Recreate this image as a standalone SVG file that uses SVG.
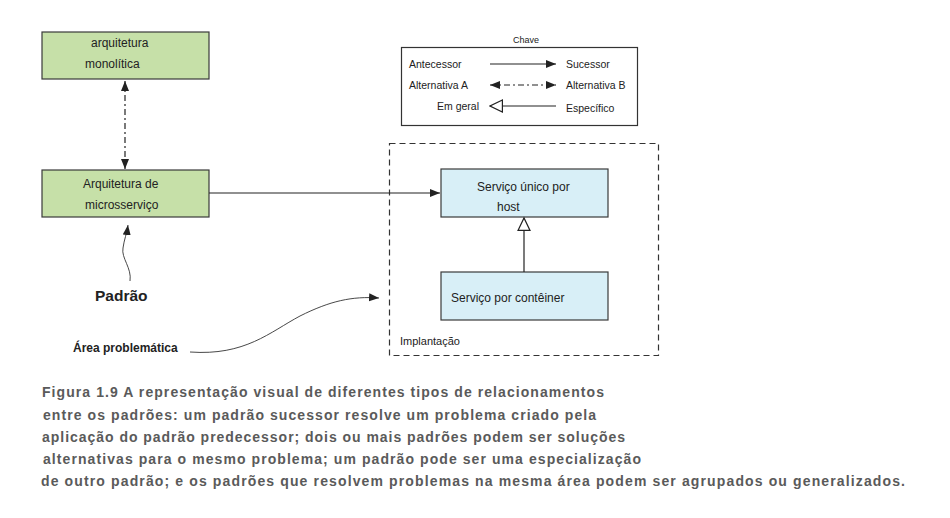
<svg xmlns="http://www.w3.org/2000/svg" width="950" height="518" viewBox="0 0 950 518">
<style>
text{font-family:"Liberation Sans",Arial,sans-serif;fill:#222}
.box{stroke:#3a3a3a;stroke-width:1.2}
.green{fill:#c6e0a8}
.blue{fill:#d8eff7}
.t{font-size:12px}
.lg{font-size:10.5px}
.cap{font-size:14px;font-weight:bold;fill:#5a5a5a}
.ln{fill:none;stroke:#222;stroke-width:1.2}
.dd{stroke-dasharray:6 3 2 3}
</style>
<defs>
<marker id="fa" markerUnits="userSpaceOnUse" markerWidth="12" markerHeight="10" refX="10" refY="4" orient="auto">
<path d="M0,0 L10,4 L0,8 Z" fill="#222"/>
</marker>
<marker id="fs" markerUnits="userSpaceOnUse" markerWidth="12" markerHeight="10" refX="0" refY="4" orient="auto">
<path d="M10,0 L0,4 L10,8 Z" fill="#222"/>
</marker>
<marker id="ho" markerUnits="userSpaceOnUse" markerWidth="16" markerHeight="16" refX="13" refY="7" orient="auto">
<path d="M0.6,1 L13,7 L0.6,13 Z" fill="#fff" stroke="#222" stroke-width="1.2"/>
</marker>
<marker id="hs" markerUnits="userSpaceOnUse" markerWidth="16" markerHeight="16" refX="0.6" refY="7" orient="auto">
<path d="M13,1 L0.6,7 L13,13 Z" fill="#fff" stroke="#222" stroke-width="1.2"/>
</marker>
</defs>

<g id="node-monolitica">
<rect class="box green" x="42" y="32" width="167" height="47"/>
<text class="t" x="91" y="47">arquitetura</text>
<text class="t" x="85" y="68">monolítica</text>
</g>
<g id="node-microsservico">
<rect class="box green" x="42" y="170" width="167" height="47"/>
<text class="t" x="83" y="188">Arquitetura de</text>
<text class="t" x="85" y="209">microsserviço</text>
</g>

<g id="legend">
<text x="526" y="43" text-anchor="middle" style="font-size:9px">Chave</text>
<rect x="401.5" y="47.5" width="236" height="78" fill="#fff" stroke="#333" stroke-width="1.2"/>
<text class="lg" x="409" y="68">Antecessor</text>
<text class="lg" x="566" y="68">Sucessor</text>
<text class="lg" x="409" y="89">Alternativa A</text>
<text class="lg" x="566" y="89">Alternativa B</text>
<text class="lg" x="437" y="110">Em geral</text>
<text class="lg" x="566" y="112">Específico</text>
<line class="ln" x1="490" y1="64" x2="556" y2="64" marker-end="url(#fa)"/>
<line class="ln dd" x1="490" y1="85" x2="556" y2="85" marker-start="url(#fs)" marker-end="url(#fa)"/>
<line class="ln" x1="490" y1="106" x2="556" y2="106" marker-start="url(#hs)"/>
</g>

<g id="group-implantacao">
<rect x="389.5" y="143.5" width="269" height="212" fill="none" stroke="#333" stroke-width="1.2" stroke-dasharray="6 4"/>
<text style="font-size:11px" x="400" y="345">Implantação</text>
</g>
<g id="node-servico-unico">
<rect class="box blue" x="441" y="169" width="167" height="48"/>
<text class="t" x="477" y="191">Serviço único por</text>
<text class="t" x="497" y="211">host</text>
</g>
<g id="node-servico-conteiner">
<rect class="box blue" x="441" y="272" width="167" height="48"/>
<text class="t" x="451" y="302">Serviço por contêiner</text>
</g>

<g id="labels">
<text x="95" y="301" style="font-size:15.5px;font-weight:bold">Padrão</text>
<text x="73" y="352" style="font-size:12px;font-weight:bold">Área problemática</text>
</g>

<g id="connectors">
<line class="ln dd" x1="125" y1="81" x2="125" y2="169" marker-start="url(#fs)" marker-end="url(#fa)"/>
<line class="ln" x1="209" y1="193" x2="440" y2="193" marker-end="url(#fa)"/>
<line class="ln" x1="524" y1="272" x2="524" y2="218" marker-end="url(#ho)"/>
<path d="M130,281 C132,268 121,258 123,248 C124,240 127,233 128,225" fill="none" stroke="#333" stroke-width="0.9" marker-end="url(#fa)"/>
<path d="M190,352 C245,356 270,332 300,316 C330,301 352,296 379,298" fill="none" stroke="#333" stroke-width="0.9" marker-end="url(#fa)"/>
</g>

<g id="caption">
<text class="cap" x="42" y="397" textLength="562" lengthAdjust="spacing">Figura 1.9 A representação visual de diferentes tipos de relacionamentos</text>
<text class="cap" x="43" y="419.5" textLength="553" lengthAdjust="spacing">entre os padrões: um padrão sucessor resolve um problema criado pela</text>
<text class="cap" x="42" y="442" textLength="583" lengthAdjust="spacing">aplicação do padrão predecessor; dois ou mais padrões podem ser soluções</text>
<text class="cap" x="43" y="464" textLength="598" lengthAdjust="spacing">alternativas para o mesmo problema; um padrão pode ser uma especialização</text>
<text class="cap" x="41" y="486" textLength="864" lengthAdjust="spacing">de outro padrão; e os padrões que resolvem problemas na mesma área podem ser agrupados ou generalizados.</text>
</g>
</svg>
